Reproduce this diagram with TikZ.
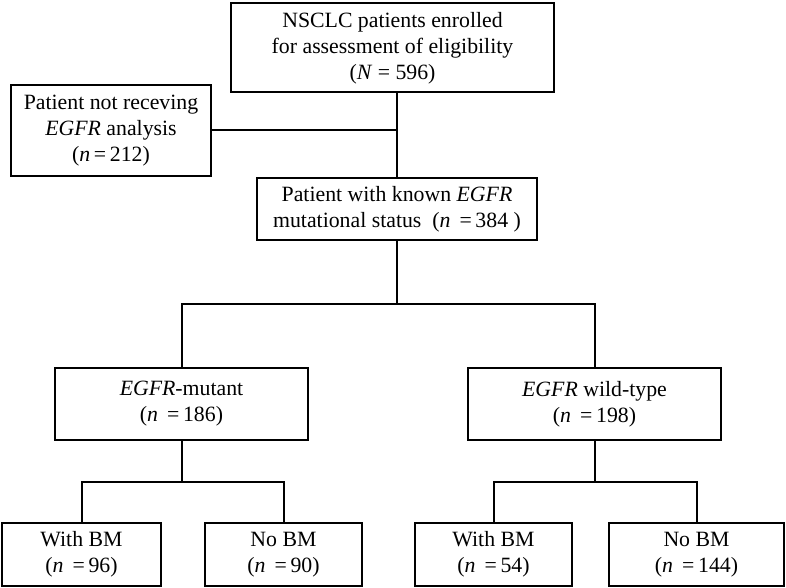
\documentclass[tikz,border=0pt]{standalone}
\usepackage{fontspec}
\setmainfont{Liberation Serif}
\begin{document}
\begin{tikzpicture}[x=1pt,y=-1pt,
		box/.style={draw, line width=2pt, align=center, inner sep=0pt,
			font=\fontsize{21.8}{26}\selectfont},
		link/.style={line width=2pt}]
		\useasboundingbox (0,0) rectangle (786,588);

		%% top
		\node[box, minimum width=323pt, minimum height=89pt] at (392.5,48)(all)
			{NSCLC patients enrolled\\for assessment of eligibility\\(\textit{N} = 596)};
		\node[box, minimum width=200pt, minimum height=91pt] at (111,130.5)(notrec)
			{Patient not receving\\\textit{EGFR} analysis\\(\textit{n}\,=\,212)};
		\node[box, minimum width=280pt, minimum height=62pt] at (397,209)(known)
			{Patient with known \textit{EGFR}\\mutational status \ (\textit{n} \,=\,384 )};

		\draw[link] (all.south -| known.north) -- (known.north);
		\draw[link] (notrec.east) -- (notrec.east -| known.north);

		%% mutational status
		\node[box, minimum width=253pt, minimum height=72pt] at (181.5,404)(mut)
			{\textit{EGFR}-mutant\\(\textit{n} \,=\,186)};
		\node[box, minimum width=253pt, minimum height=72pt] at (594.5,404)(wild)
			{\textit{EGFR} wild-type\\(\textit{n} \,=\,198)};

		\draw[link] (known.south) -- ++(0,63) -| (mut.north);
		\draw[link] (known.south) -- ++(0,63) -| (wild.north);

		%% brain metastasis
		\node[box, minimum width=159pt, minimum height=63pt] at (81.5,554.5)(mutbm)
			{With BM\\(\textit{n} \,=\,96)};
		\node[box, minimum width=157pt, minimum height=63pt] at (283.5,554.5)(mutno)
			{No BM\\(\textit{n} \,=\,90)};
		\node[box, minimum width=157pt, minimum height=63pt] at (493.5,554.5)(wildbm)
			{With BM\\(\textit{n} \,=\,54)};
		\node[box, minimum width=175pt, minimum height=63pt] at (696.5,554.5)(wildno)
			{No BM\\(\textit{n} \,=\,144)};

		\draw[link] (mut.south) -- ++(0,41) -| (mutbm.north);
		\draw[link] (mut.south) -- ++(0,41) -| (mutno.north);
		\draw[link] (wild.south) -- ++(0,41) -| (wildbm.north);
		\draw[link] (wild.south) -- ++(0,41) -| (wildno.north);
\end{tikzpicture}
\end{document}
